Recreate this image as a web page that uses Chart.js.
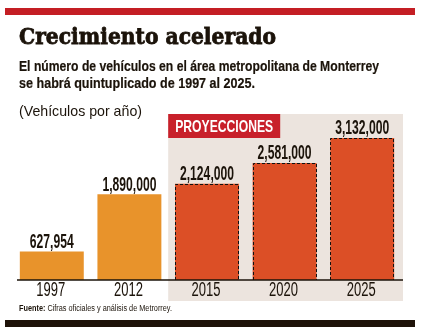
<!DOCTYPE html>
<html>
<head>
<meta charset="utf-8">
<script src="https://cdn.jsdelivr.net/npm/chart.js@4.4.1/dist/chart.umd.min.js"></script>
<style>
  body { margin: 0; width: 421px; height: 335px; overflow: hidden; background: #fff; position: relative;
         font-family: "Liberation Sans Narrow", "Liberation Sans", Arial, sans-serif; color: #1b130a; }
  .t { position: absolute; left: 19px; white-space: nowrap; transform-origin: 0 0; line-height: 1; }
  .bar { position: absolute; left: 5px; width: 410px; height: 7px; }
  #wrap { position: absolute; left: 0; top: 0; width: 421px; height: 335px; }
</style>
</head>
<body>
<div class="bar" style="top:8px;background:#c41e24"></div>
<div id="wrap"><canvas id="myChart"></canvas></div>
<div class="t" id="title" style="top:24.5px;font-family:'DejaVu Serif',serif;font-weight:bold;font-size:22px;-webkit-text-stroke:0.8px #1b130a">Crecimiento acelerado</div>
<div class="t" id="sub1" style="top:58.3px;font-weight:bold;font-size:15px;-webkit-text-stroke:0.2px #1b130a">El número de vehículos en el área metropolitana de Monterrey</div>
<div class="t" id="sub2" style="top:75.3px;font-weight:bold;font-size:15px;-webkit-text-stroke:0.2px #1b130a">se habrá quintuplicado de 1997 al 2025.</div>
<div class="t" id="unit" style="top:102.5px;font-size:15px">(Vehículos por año)</div>
<div class="t" id="src" style="top:304px;font-size:8.5px"><b>Fuente:</b> Cifras oficiales y análisis de Metrorrey.</div>
<div class="bar" style="top:320px;background:#1e1208"></div>
<script>
const years = ['1997', '2012', '2015', '2020', '2025'];
const vehicles = [627954, 1890000, 2124000, 2581000, 3132000];
const firstProjection = '2015';
const projectionLabel = 'PROYECCIONES';

function fit(id, w) {
    let el = document.getElementById(id);
    let r = el.getBoundingClientRect().width;
    el.style.transform = `scaleX(${w / r})`;
}
fit('title', 257);
fit('sub1', 360);
fit('sub2', 236);
fit('unit', 123);
fit('src', 153);

const ORANGE = '#e8932b';
const RED = '#dc4f26';
const INK = '#1b130a';
let projStart = years.indexOf(firstProjection);

// squeezed text, the original uses a compressed face
function squeezed(ctx, text, x, y, font, sx, color, align) {
    ctx.save();
    ctx.font = font;
    ctx.fillStyle = color;
    ctx.textBaseline = 'alphabetic';
    ctx.translate(x, y);
    ctx.scale(sx, 1);
    let w = ctx.measureText(text).width;
    let dx = align === 'center' ? -w / 2 : 0;
    ctx.fillText(text, dx, 0);
    ctx.restore();
}

const decor = {
    id: 'decor',
    beforeDatasetsDraw(chart) {
        let ctx = chart.ctx, a = chart.chartArea, x = chart.scales.x;
        let left = (x.getPixelForValue(projStart - 1) + x.getPixelForValue(projStart)) / 2;
        ctx.save();
        ctx.fillStyle = '#ece4de';
        ctx.fillRect(left, a.top, a.right + 2 - left, a.bottom + 21 - a.top);
        ctx.fillStyle = '#c8202a';
        ctx.fillRect(left, a.top, 112, 24);
        ctx.restore();
        ctx.font = 'bold 17px "Liberation Sans Narrow", "Liberation Sans", Arial';
        let sx = 98 / ctx.measureText(projectionLabel).width;
        squeezed(ctx, projectionLabel, left + 7, a.top + 18, ctx.font, sx, '#fff', 'left');
    },
    afterDatasetsDraw(chart) {
        let ctx = chart.ctx, a = chart.chartArea;
        let bars = chart.getDatasetMeta(0).data;
        // dashed outline on projected bars
        ctx.save();
        ctx.strokeStyle = '#111';
        ctx.lineWidth = 1;
        ctx.setLineDash([3, 2]);
        bars.forEach((b, i) => {
            if (i < projStart) return;
            let l = Math.round(b.x - b.width / 2) + 0.5;
            let r = Math.round(b.x + b.width / 2) - 0.5;
            let t = Math.round(b.y) + 0.5;
            ctx.beginPath();
            ctx.moveTo(l, b.base);
            ctx.lineTo(l, t);
            ctx.lineTo(r, t);
            ctx.lineTo(r, b.base);
            ctx.stroke();
        });
        ctx.restore();
        // baseline
        ctx.save();
        ctx.strokeStyle = INK;
        ctx.lineWidth = 1.5;
        ctx.beginPath();
        ctx.moveTo(a.left + 4, a.bottom);
        ctx.lineTo(a.right + 2, a.bottom);
        ctx.stroke();
        ctx.restore();
        // value labels
        let vfont = 'bold 20.5px "Liberation Sans Narrow", "Liberation Sans", Arial';
        ctx.font = vfont;
        let vsx = 54 / ctx.measureText('1,890,000').width;
        bars.forEach((b, i) => {
            squeezed(ctx, vehicles[i].toLocaleString('en-US'), b.x, b.y - 3.5, vfont, vsx, INK, 'center');
        });
        // year labels
        let yfont = '20px "Liberation Sans Narrow", "Liberation Sans", Arial';
        ctx.font = yfont;
        let ysx = 29 / ctx.measureText('1997').width;
        bars.forEach((b, i) => {
            squeezed(ctx, years[i], b.x - 1, a.bottom + 16, yfont, ysx, INK, 'center');
        });
    }
};

let ctx = document.getElementById('myChart');
new Chart(ctx, {
    type: 'bar',
    data: {
        labels: years,
        datasets: [{
            data: vehicles,
            backgroundColor: years.map((y, i) => i < projStart ? ORANGE : RED),
            borderWidth: 0,
            barPercentage: 0.824,
            categoryPercentage: 1
        }]
    },
    options: {
        responsive: true,
        maintainAspectRatio: false,
        animation: false,
        layout: { padding: { left: 13, right: 20, top: 114, bottom: 55 } },
        scales: {
            x: { display: false },
            y: { display: false, min: 0, max: 3661000 }
        },
        plugins: { legend: { display: false }, tooltip: { enabled: false } }
    },
    plugins: [decor]
});
</script>
</body>
</html>
